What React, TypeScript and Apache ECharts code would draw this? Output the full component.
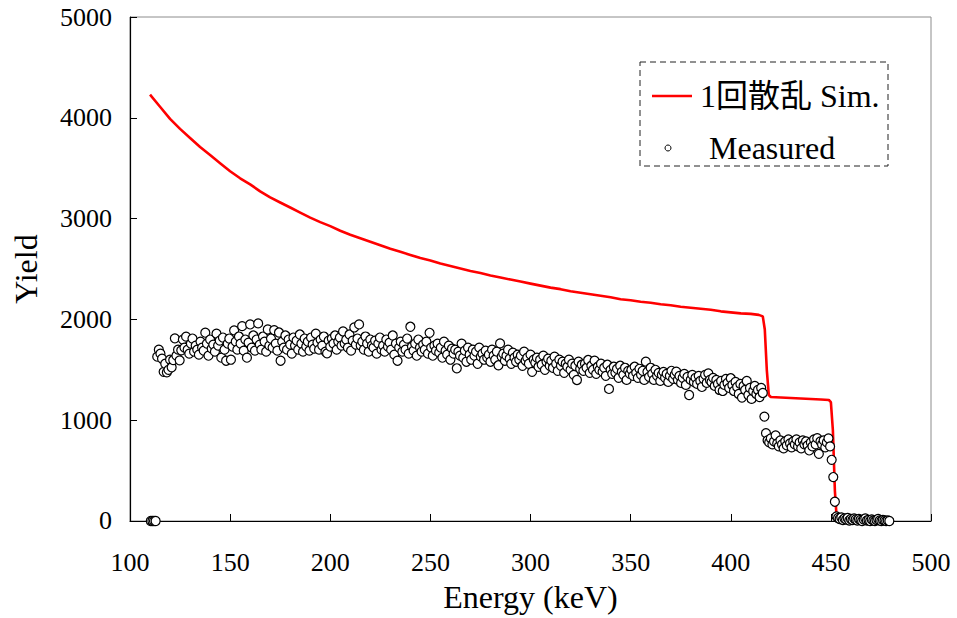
import React, { useEffect, useRef } from "react";
import * as echarts from "echarts";

// X axis ticks (keV) and Y axis ticks (counts)
const xMin = 100;
const xMax = 500;
const xInterval = 50;
const yMin = 0;
const yMax = 5000;
const yInterval = 1000;

// Single scattering simulation ("1回散乱 Sim.")
const simEnergy = [
  110, 115, 120, 125, 130, 135, 140, 145, 150, 155, 160, 165, 170, 175, 180, 185, 190, 195,
  200, 205, 210, 215, 220, 225, 230, 235, 240, 245, 250, 255, 260, 265, 270, 275, 280, 285,
  290, 295, 300, 305, 310, 315, 320, 325, 330, 335, 340, 345, 350, 355, 360, 365, 370, 375,
  380, 385, 390, 395, 400, 405, 410, 414, 416, 417, 418, 419, 420, 425, 430, 435, 440, 445,
  449, 450, 451, 452, 453,
];
const simYield = [
  4230, 4110, 3990, 3890, 3800, 3710, 3630, 3550, 3470, 3400, 3340, 3270, 3210, 3160, 3110, 3060, 3010, 2965,
  2925, 2880, 2840, 2805, 2770, 2735, 2700, 2670, 2640, 2610, 2585, 2555, 2530, 2505, 2480, 2460, 2435, 2415,
  2395, 2375, 2355, 2335, 2315, 2300, 2280, 2265, 2250, 2235, 2220, 2200, 2190, 2175, 2165, 2150, 2140, 2125,
  2115, 2105, 2095, 2080, 2070, 2060, 2055, 2045, 2030, 1900, 1500, 1250, 1230, 1225, 1220, 1215, 1210, 1205,
  1200, 1180, 900, 300, 0,
];

// Measured spectrum: channel energy calibration and yields
const measuredStart = 110.4; // keV of first channel
const measuredStep = 0.8; // keV per channel
const measuredYield = [
  0, 0, 0, 0, 1630, 1700, 1660, 1610, 1480, 1560,
  1475, 1500, 1600, 1525, 1597, 1812, 1640, 1700, 1594, 1693,
  1800, 1720, 1829, 1700, 1660, 1760, 1810, 1680, 1740, 1700,
  1650, 1780, 1720, 1690, 1868, 1760, 1640, 1800, 1710, 1750,
  1680, 1858, 1740, 1790, 1620, 1820, 1700, 1590, 1760, 1810,
  1600, 1730, 1891, 1780, 1700, 1830, 1760, 1933, 1690, 1800,
  1620, 1770, 1950, 1720, 1840, 1690, 1800, 1960, 1750, 1700,
  1830, 1780, 1680, 1900, 1740, 1810, 1720, 1894, 1760, 1690,
  1870, 1590, 1780, 1720, 1840, 1700, 1800, 1750, 1660, 1820,
  1740, 1790, 1700, 1850, 1760, 1680, 1810, 1730, 1780, 1690,
  1820, 1750, 1710, 1858, 1770, 1700, 1800, 1740, 1830, 1680,
  1663, 1790, 1730, 1810, 1760, 1840, 1700, 1780, 1820, 1740,
  1880, 1760, 1800, 1720, 1850, 1690, 1790, 1920, 1750, 1810,
  1950, 1740, 1780, 1700, 1830, 1760, 1680, 1800, 1740, 1720,
  1790, 1660, 1760, 1820, 1700, 1740, 1680, 1800, 1730, 1770,
  1700, 1840, 1650, 1760, 1590, 1720, 1780, 1680, 1750, 1700,
  1810, 1660, 1927, 1730, 1690, 1760, 1640, 1800, 1720, 1680,
  1750, 1700, 1780, 1660, 1867, 1720, 1640, 1740, 1690, 1760,
  1670, 1720, 1620, 1780, 1690, 1650, 1740, 1600, 1710, 1660,
  1700, 1515, 1680, 1640, 1760, 1620, 1690, 1580, 1720, 1650,
  1600, 1700, 1640, 1680, 1560, 1720, 1630, 1660, 1600, 1690,
  1620, 1650, 1580, 1700, 1640, 1600, 1680, 1545, 1762, 1630,
  1660, 1590, 1640, 1700, 1610, 1560, 1670, 1620, 1580, 1650,
  1600, 1640, 1540, 1680, 1590, 1620, 1560, 1650, 1480, 1600,
  1570, 1620, 1530, 1600, 1550, 1640, 1500, 1580, 1610, 1540,
  1590, 1520, 1630, 1560, 1490, 1600, 1540, 1580, 1470, 1560,
  1530, 1600, 1500, 1560, 1450, 1540, 1399, 1580, 1510, 1550,
  1490, 1560, 1520, 1597, 1470, 1540, 1500, 1590, 1460, 1530,
  1500, 1560, 1480, 1520, 1440, 1550, 1310, 1500, 1460, 1530,
  1470, 1510, 1420, 1540, 1480, 1450, 1520, 1400, 1490, 1460,
  1500, 1440, 1530, 1470, 1420, 1510, 1450, 1490, 1400, 1581,
  1480, 1430, 1520, 1460, 1400, 1500, 1440, 1470, 1390, 1450,
  1480, 1420, 1460, 1380, 1440, 1490, 1410, 1450, 1482, 1400,
  1440, 1370, 1420, 1460, 1350, 1430, 1250, 1400, 1450, 1380,
  1420, 1360, 1440, 1390, 1330, 1410, 1450, 1370, 1465, 1400,
  1380, 1420, 1340, 1400, 1360, 1300, 1390, 1290, 1350, 1410,
  1370, 1320, 1416, 1350, 1290, 1380, 1330, 1260, 1360, 1224,
  1340, 1300, 1389, 1250, 1320, 1211, 1290, 1340, 1260, 1300,
  1230, 1320, 1270, 1036, 871, 800, 780, 820, 760, 790,
  850, 770, 740, 800, 760, 720, 790, 750, 810, 770,
  730, 790, 760, 810, 740, 780, 720, 800, 760, 790,
  750, 700, 780, 740, 810, 760, 822, 666, 790, 760,
  800, 730, 780, 820, 740, 607, 436, 191, 46, 30,
  20, 35, 10, 25, 15, 30, 5, 20, 10, 25,
  15, 5, 20, 10, 0, 15, 25, 5, 10, 0,
  15, 5, 0, 10, 20, 5, 0, 10, 5, 0,
  5, 0,
];

const simName = "1回散乱 Sim.";
const measName = "Measured";
const xName = "Energy (keV)";
const yName = "Yield";

const FONT = "'Liberation Serif', 'Times New Roman', 'Noto Sans CJK JP', serif";

export default function App() {
  const ref = useRef<HTMLDivElement>(null);

  useEffect(() => {
    document.body.style.margin = "0";
    if (!ref.current) return;
    const chart = echarts.init(ref.current, null, { renderer: "svg" });

    const simData = simEnergy.map((e, i) => [e, simYield[i]]);
    const measData = measuredYield.map((y, i) => [
      +(measuredStart + i * measuredStep).toFixed(2),
      y,
    ]);

    chart.setOption({
      animation: false,
      backgroundColor: "#ffffff",
      textStyle: { fontFamily: FONT, color: "#000" },
      grid: {
        left: 130,
        right: 26,
        top: 17,
        bottom: 95,
        show: true,
        borderColor: "#8c8c8c",
        borderWidth: 1,
        containLabel: false,
      },
      xAxis: {
        type: "value",
        min: xMin,
        max: xMax,
        interval: xInterval,
        name: xName,
        nameLocation: "middle",
        nameGap: 60,
        nameTextStyle: { fontFamily: FONT, fontSize: 32, color: "#000" },
        axisLine: { show: true, onZero: false, lineStyle: { color: "#000", width: 1.2 } },
        axisTick: { show: true, inside: true, length: 7, lineStyle: { color: "#000", width: 1 } },
        axisLabel: {
          fontFamily: FONT,
          fontSize: 26,
          color: "#000",
          margin: 28,
          formatter: (v: number) => String(v),
        },
        splitLine: { show: false },
      },
      yAxis: {
        type: "value",
        min: yMin,
        max: yMax,
        interval: yInterval,
        name: yName,
        nameLocation: "middle",
        nameGap: 88,
        nameRotate: 90,
        nameTextStyle: { fontFamily: FONT, fontSize: 32, color: "#000" },
        axisLine: { show: true, onZero: false, lineStyle: { color: "#000", width: 1.2 } },
        axisTick: { show: true, inside: true, length: 7, lineStyle: { color: "#000", width: 1 } },
        axisLabel: {
          fontFamily: FONT,
          fontSize: 26,
          color: "#000",
          margin: 18,
          formatter: (v: number) => String(v),
        },
        splitLine: { show: false },
      },
      series: [
        {
          name: simName,
          type: "line",
          data: simData,
          showSymbol: false,
          symbol: "none",
          lineStyle: { color: "#ff0000", width: 2.6 },
          z: 2,
        },
        {
          name: measName,
          type: "scatter",
          data: measData,
          symbol: "circle",
          symbolSize: 9,
          itemStyle: { color: "#ffffff", borderColor: "#000000", borderWidth: 1.2, opacity: 1 },
          z: 3,
        },
      ],
      graphic: [
        {
          type: "rect",
          shape: { x: 640, y: 62, width: 248, height: 104 },
          style: { fill: "#fff", stroke: "#222", lineWidth: 1, lineDash: [6, 4] },
          z: 10,
        },
        {
          type: "line",
          shape: { x1: 652, y1: 96, x2: 692, y2: 96 },
          style: { stroke: "#ff0000", lineWidth: 2.6 },
          z: 11,
        },
        {
          type: "text",
          x: 700,
          y: 96,
          style: {
            text: simName,
            font: `32px ${FONT}`,
            fill: "#000",
            verticalAlign: "middle",
            align: "left",
          },
          z: 11,
        },
        {
          type: "circle",
          shape: { cx: 668, cy: 148, r: 3 },
          style: { fill: "#fff", stroke: "#000", lineWidth: 1 },
          z: 11,
        },
        {
          type: "text",
          x: 709,
          y: 148,
          style: {
            text: measName,
            font: `32px ${FONT}`,
            fill: "#000",
            verticalAlign: "middle",
            align: "left",
          },
          z: 11,
        },
      ],
    });

    return () => chart.dispose();
  }, []);

  return <div ref={ref} style={{ width: 957, height: 618 }} />;
}
